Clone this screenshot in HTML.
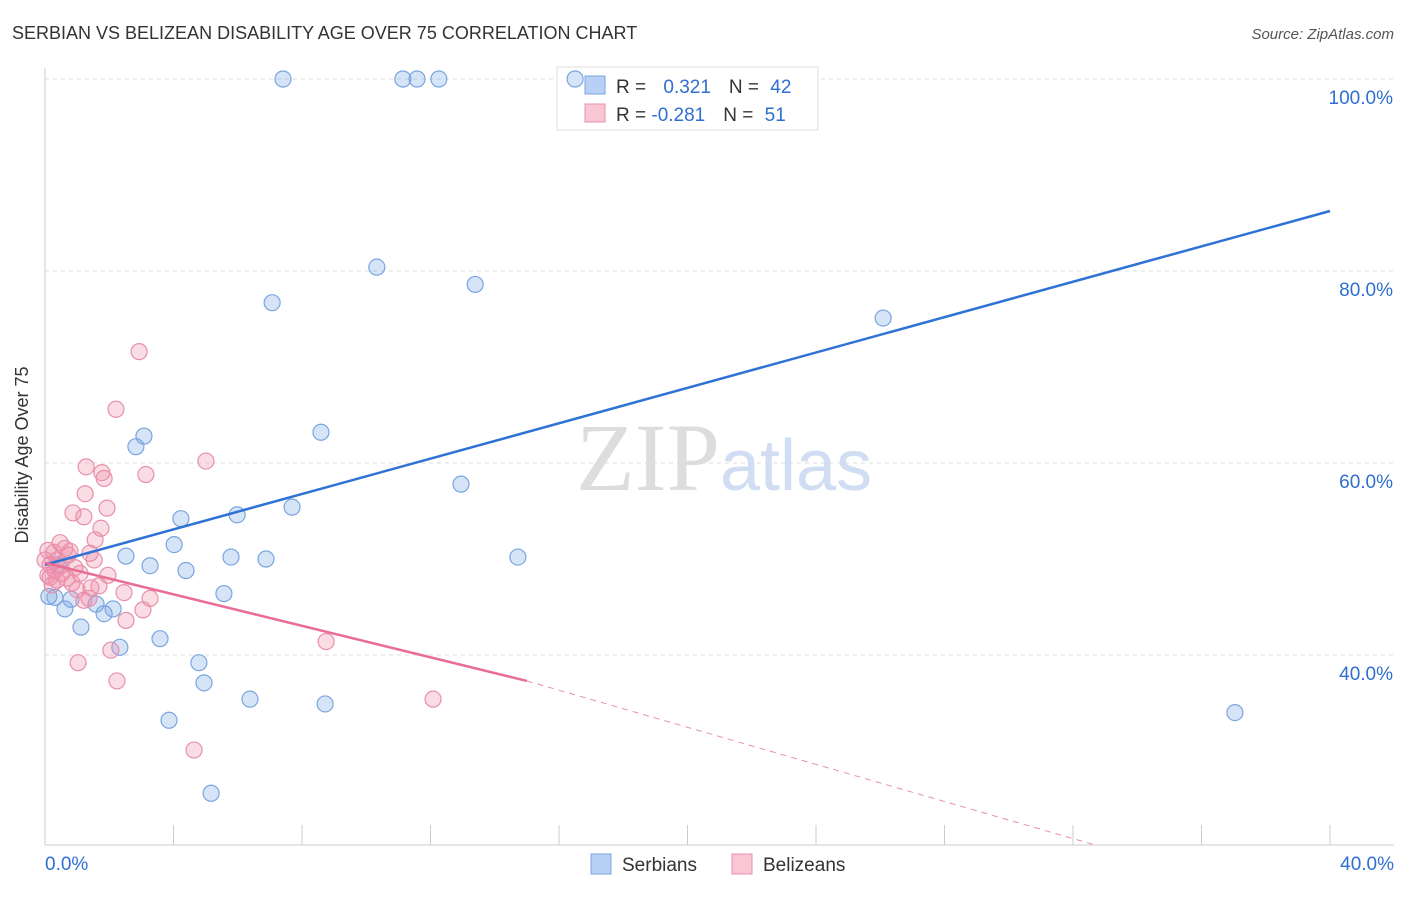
<!DOCTYPE html>
<html><head><meta charset="utf-8"><style>
body{margin:0;background:#fff;font-family:"Liberation Sans",sans-serif}
</style></head><body>
<svg width="1406" height="892" xmlns="http://www.w3.org/2000/svg">
<text x="12" y="39" font-size="18" fill="#333">SERBIAN VS BELIZEAN DISABILITY AGE OVER 75 CORRELATION CHART</text>
<text x="1394" y="39" font-size="15" fill="#555" font-style="italic" text-anchor="end">Source: ZipAtlas.com</text>
<g id="grid"></g>
<text x="720" y="490" font-size="96" fill="#ddd" text-anchor="end" font-family="Liberation Serif">ZIP</text>
<text x="720" y="490" font-size="72" fill="#d0ddf2">atlas</text>
<text x="28" y="455" font-size="18" fill="#333" text-anchor="middle" transform="rotate(-90 28 455)">Disability Age Over 75</text>
<g>
<rect x="557" y="67" width="261" height="63" fill="#fff" stroke="#ddd"/>
<rect x="585" y="76" width="20" height="18" fill="#b8d0f5" stroke="#7aa5e0"/>
<rect x="585" y="104" width="20" height="18" fill="#f9c6d6" stroke="#e890aa"/>
<text x="616" y="93" font-size="19" fill="#333">R = <tspan fill="#2f6fd0" dx="12">0.321</tspan><tspan dx="18">N = </tspan><tspan fill="#2f6fd0" dx="6">42</tspan></text>
<text x="616" y="121" font-size="19" fill="#333">R = <tspan fill="#2f6fd0">-0.281</tspan><tspan dx="18">N = </tspan><tspan fill="#2f6fd0" dx="6">51</tspan></text>
</g>
<g id="marks"></g>
<g>
<rect x="591" y="854" width="20" height="20" fill="#b8d0f5" stroke="#7aa5e0"/>
<text x="622" y="871" font-size="19" fill="#333">Serbians</text>
<rect x="732" y="854" width="20" height="20" fill="#f9c6d6" stroke="#e890aa"/>
<text x="763" y="871" font-size="19" fill="#333">Belizeans</text>
</g>
</svg>
<script>
const yTicks=[100,80,60,40];
const xTickLabels=["0.0%","40.0%"];
const blueX=[7.41,11.14,11.58,12.26,16.5,10.33,13.39,7.07,26.09,8.59,3.08,2.83,12.95,7.69,4.23,5.98,4.02,2.52,5.79,6.88,14.72,3.27,4.39,5.57,0.31,0.12,0.81,1.59,0.62,2.12,1.84,1.12,2.33,3.58,4.79,4.95,6.38,8.72,3.86,5.17,37.04,0.4];
const blueY=[100,100,100,100,100,80.4,78.6,76.7,75.1,63.2,62.8,61.7,57.8,55.4,54.2,54.6,51.5,50.3,50.2,50.0,50.2,49.3,48.8,46.4,46.0,46.1,45.8,45.3,44.8,44.8,44.3,42.9,40.8,41.7,39.2,37.1,35.4,34.9,33.2,25.6,34.0,49.4];
const pinkX=[2.93,2.21,5.01,1.28,3.14,1.77,1.84,1.25,1.93,0.87,1.21,1.74,0.47,0.62,0.09,0.28,0.78,1.56,1.40,1.53,0.37,0.16,0.5,0.93,1.09,1.96,0.16,0.37,0.84,1.68,1.43,1.0,2.46,3.27,1.37,3.05,2.52,2.05,8.75,1.03,2.24,12.08,4.64,0.09,0.53,0.22,1.21,0.72,0.31,0.68,0];
const pinkY=[71.6,65.6,60.2,59.6,58.8,59.0,58.4,56.8,55.3,54.8,54.4,53.2,51.7,51.1,50.9,50.7,50.8,52.0,50.6,49.9,49.9,49.4,49.3,49.1,48.5,48.3,48.1,47.8,47.5,47.2,47.0,46.8,46.5,45.9,45.9,44.7,43.6,40.5,41.4,39.2,37.3,35.4,30.1,48.3,48.5,47.3,45.7,50.4,48.8,48.0,49.9];
const blueLine=[[0,49.4],[40,86.25]];
const pinkLine=[[0,49.6],[15,37.3]];
const pinkDash=[[15,37.3],[32.7,20.2]];
const X=v=>45+v*32.125, Y=v=>1039-v*9.6;
const NS="http://www.w3.org/2000/svg";
const grid=document.getElementById('grid'), marks=document.getElementById('marks');
function mk(tag,at,parent){const e=document.createElementNS(NS,tag);for(const k in at)e.setAttribute(k,at[k]);parent.appendChild(e);return e;}
yTicks.forEach(t=>{
 const l=mk('line',{x1:45,x2:1394,y1:Y(t),y2:Y(t),stroke:'#ddd','stroke-dasharray':'4,4'},grid);
 
 
 const tx=mk('text',{x:1393,y:Y(t)+25,'font-size':19,fill:'#2f6fd0','text-anchor':'end'},grid);
 tx.textContent=t.toFixed(1)+'%';
 
 
});
mk('line',{x1:45,x2:45,y1:68,y2:845,stroke:'#ccc'},grid);
mk('line',{x1:45,x2:1394,y1:845,y2:845,stroke:'#ccc'},grid);
for(let i=0;i<=10;i++){const t=mk('line',{x1:X(i*4),x2:X(i*4),y1:825,y2:845,stroke:'#ccc'},grid);
 
 }
[[0,'start',45],[40,'end',1394]].forEach((d,i)=>{const t=mk('text',{x:d[2],y:870,'font-size':19,fill:'#2f6fd0','text-anchor':d[1]},grid);t.textContent=xTickLabels[i];
 
 });
function pts(xs,ys,fill,stroke,name){xs.forEach((x,i)=>{const c=mk('circle',{cx:X(x),cy:Y(ys[i]),r:8,fill:fill,stroke:stroke,'stroke-width':1.2},marks);
 
 });}
pts(blueX,blueY,'rgba(120,165,230,0.3)','#7aa5e0','serbian-point');
pts(pinkX,pinkY,'rgba(240,140,170,0.3)','#e890aa','belizean-point');
function ln(p,col,w,dash,name){const l=mk('line',{x1:X(p[0][0]),y1:Y(p[0][1]),x2:X(p[1][0]),y2:Y(p[1][1]),stroke:col,'stroke-width':w},marks);if(dash)l.setAttribute('stroke-dasharray',dash);
 
 }
ln(blueLine,'#2f72d6',2.5,null,'serbian-trendline');
ln(pinkLine,'#e86e98',2.5,null,'belizean-trendline');
ln(pinkDash,'#e890aa',1,'6,5','belizean-trendline-extension');
</script>
</body></html>
